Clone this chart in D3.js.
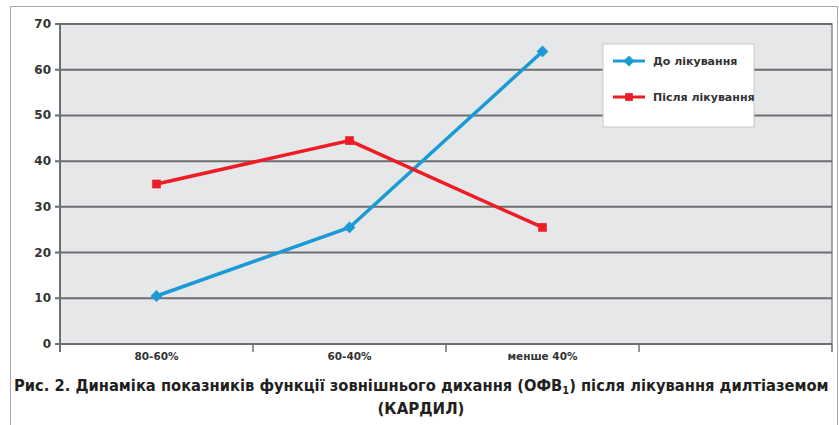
<!DOCTYPE html>
<html>
<head>
<meta charset="utf-8">
<script src="https://cdn.jsdelivr.net/npm/d3@7/dist/d3.min.js"></script>
<style>
  html, body { margin: 0; padding: 0; background: #fff; }
  svg { display: block; font-family: "DejaVu Sans", sans-serif; }
</style>
</head>
<body>
<div id="chart"></div>
<script>
//chart data
var categories = ['80-60%', '60-40%', 'менше 40%', ''];
var beforeValues = [10.5, 25.5, 64];
var afterValues = [35, 44.5, 25.5];
var yTicks = [0, 10, 20, 30, 40, 50, 60, 70];
var seriesNames = ['До лікування', 'Після лікування'];
var captionLines = ['Рис. 2. Динаміка показників функції зовнішнього дихання (ОФВ', ') після лікування дилтіаземом', '(КАРДИЛ)'];

//size and plot area
var width = 839, height = 425,
    plot = { left: 60, top: 24, right: 832, bottom: 344 };

var svg = d3.select('#chart').append('svg')
    .attr('width', width)
    .attr('height', height);

//outer frame
svg.append('rect')
    .attr('x', 10.5).attr('y', 6.5)
    .attr('width', 827).attr('height', 430)
    .attr('fill', 'none')
    .attr('stroke', '#a7a9ac')
    .attr('stroke-width', 1);

//scales
var xScale = d3.scaleBand().domain(categories).range([plot.left, plot.right]);
var yScale = d3.scaleLinear().domain([0, 70]).range([plot.bottom, plot.top]);

//plot background
svg.append('rect')
    .attr('x', plot.left).attr('y', plot.top)
    .attr('width', plot.right - plot.left).attr('height', plot.bottom - plot.top)
    .attr('fill', '#e6e7e8')
    .attr('stroke', '#8a8c8e')
    .attr('stroke-width', 1.5);

//grid lines
svg.append('g').selectAll('line')
    .data(yTicks)
    .enter().append('line')
    .attr('x1', plot.left - 5).attr('x2', plot.right)
    .attr('y1', function (d) { return yScale(d); })
    .attr('y2', function (d) { return yScale(d); })
    .attr('stroke', '#6d6e71')
    .attr('stroke-width', 2);

//y axis line
svg.append('line')
    .attr('x1', plot.left).attr('x2', plot.left)
    .attr('y1', plot.top).attr('y2', plot.bottom + 8)
    .attr('stroke', '#6d6e71').attr('stroke-width', 2);

//x ticks between bands
svg.append('g').selectAll('line')
    .data(categories)
    .enter().append('line')
    .attr('x1', function (d) { return xScale(d) + xScale.bandwidth(); })
    .attr('x2', function (d) { return xScale(d) + xScale.bandwidth(); })
    .attr('y1', plot.bottom).attr('y2', plot.bottom + 8)
    .attr('stroke', '#6d6e71').attr('stroke-width', 1.5);

//y labels
svg.append('g').selectAll('text')
    .data(yTicks)
    .enter().append('text')
    .attr('x', plot.left - 9)
    .attr('y', function (d) { return yScale(d) + 4; })
    .attr('text-anchor', 'end')
    .attr('font-size', 12)
    .attr('font-weight', 'bold')
    .attr('fill', '#333')
    .text(function (d) { return d; });

//x labels
svg.append('g').selectAll('text')
    .data(categories)
    .enter().append('text')
    .attr('x', function (d) { return xScale(d) + xScale.bandwidth() / 2; })
    .attr('y', plot.bottom + 16)
    .attr('text-anchor', 'middle')
    .attr('font-size', 10.5)
    .attr('font-weight', 'bold')
    .attr('fill', '#333')
    .text(function (d) { return d; });

//series definition (diamond = square turned 45deg)
var series = [
    { name: seriesNames[0], values: beforeValues, color: '#1b9ad6', rotate: 45, size: 70 },
    { name: seriesNames[1], values: afterValues, color: '#ee1c25', rotate: 0, size: 75 }
];

var line = d3.line()
    .x(function (d, i) { return xScale(categories[i]) + xScale.bandwidth() / 2; })
    .y(function (d) { return yScale(d); });

//draw series lines and bullets
series.forEach(function (s) {
    svg.append('path')
        .datum(s.values)
        .attr('d', line)
        .attr('fill', 'none')
        .attr('stroke', s.color)
        .attr('stroke-width', 3.5);

    svg.append('g').selectAll('path')
        .data(s.values)
        .enter().append('path')
        .attr('d', d3.symbol().type(d3.symbolSquare).size(s.size))
        .attr('fill', s.color)
        .attr('transform', function (d, i) {
            return 'translate(' + (xScale(categories[i]) + xScale.bandwidth() / 2) + ',' + yScale(d) + ') rotate(' + s.rotate + ')';
        });
});

//legend
var legend = svg.append('g').attr('transform', 'translate(603,44)');
legend.append('rect')
    .attr('width', 151).attr('height', 83)
    .attr('fill', '#fff')
    .attr('stroke', '#c7c8ca').attr('stroke-width', 1);

series.forEach(function (s, i) {
    var y = 17 + i * 36;
    legend.append('line')
        .attr('x1', 10).attr('x2', 42)
        .attr('y1', y).attr('y2', y)
        .attr('stroke', s.color).attr('stroke-width', 3);
    legend.append('path')
        .attr('d', d3.symbol().type(d3.symbolSquare).size(60))
        .attr('fill', s.color)
        .attr('transform', 'translate(26,' + y + ') rotate(' + s.rotate + ')');
    legend.append('text')
        .attr('x', 50).attr('y', y + 4)
        .attr('font-size', 11)
        .attr('font-weight', 'bold')
        .attr('fill', '#333')
        .text(s.name);
});

//caption, squeezed to fit the frame width
var capG = svg.append('g');
var cap = capG.append('text')
    .attr('x', 0).attr('y', 0)
    .attr('font-size', 15)
    .attr('font-weight', 'bold')
    .attr('fill', '#231f20');
cap.append('tspan').text(captionLines[0]);
cap.append('tspan').attr('font-size', 10).attr('dy', 3).text('1');
cap.append('tspan').attr('dy', -3).text(captionLines[1]);
var capW = cap.node().getBBox().width;
capG.attr('transform', 'translate(14,391) scale(' + (815 / capW) + ',1)');

svg.append('text')
    .attr('x', 421).attr('y', 414)
    .attr('text-anchor', 'middle')
    .attr('font-size', 15)
    .attr('font-weight', 'bold')
    .attr('fill', '#231f20')
    .text(captionLines[2]);
</script>
</body>
</html>
